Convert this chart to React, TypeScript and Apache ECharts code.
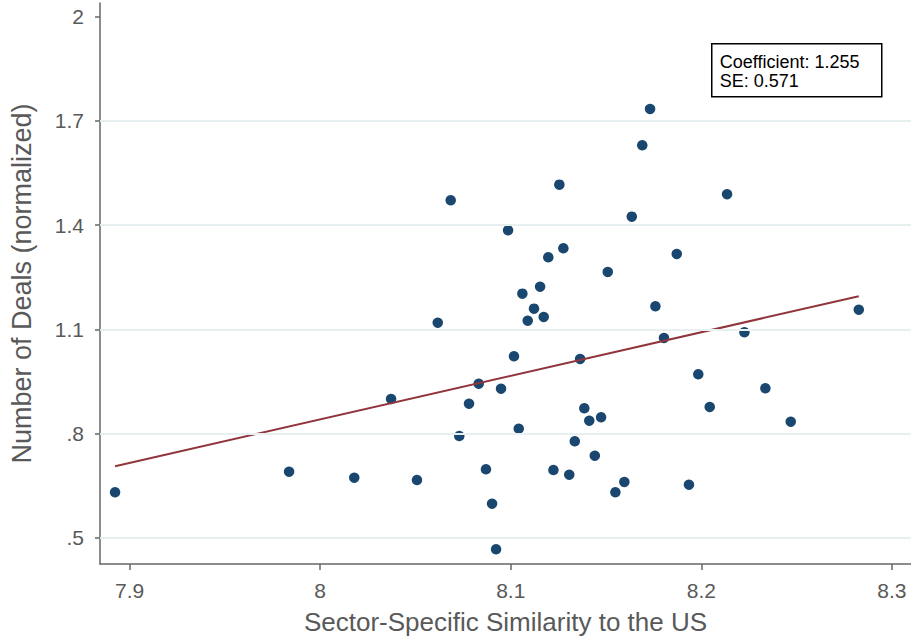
import React, { useEffect, useRef } from "react";
import * as echarts from "echarts";

// Sector-specific similarity (x) vs. normalized deal count (y), one point per observation
const similarity: number[] = [
  7.8924, 7.9837, 8.0179, 8.0372, 8.0508, 8.0617, 8.0685, 8.073, 8.0781, 8.0832,
  8.087, 8.0902, 8.0923, 8.0949, 8.0986, 8.1017, 8.1042, 8.1061, 8.1089, 8.1122,
  8.1154, 8.1173, 8.1197, 8.1224, 8.1255, 8.1276, 8.1307, 8.1336, 8.1364, 8.1386,
  8.1412, 8.1441, 8.1474, 8.1509, 8.1549, 8.1596, 8.1635, 8.169, 8.1731, 8.1759,
  8.1804, 8.1871, 8.1935, 8.1984, 8.2044, 8.2135, 8.2226, 8.2336, 8.2469, 8.2826,
];
const deals: number[] = [
  0.6307, 0.69, 0.6728, 0.8994, 0.6661, 1.119, 1.4715, 0.7928, 0.8858, 0.9434,
  0.697, 0.5979, 0.4666, 0.929, 1.3851, 1.0223, 0.8138, 1.2026, 1.1248, 1.1594,
  1.2227, 1.1355, 1.3074, 0.6949, 1.5164, 1.3333, 0.6814, 0.7776, 1.0145, 0.8726,
  0.8369, 0.7361, 0.8467, 1.265, 0.6307, 0.6604, 1.4243, 1.6298, 1.7344, 1.1663,
  1.075, 1.3169, 0.6526, 0.9705, 0.8763, 1.4888, 1.0914, 0.9302, 0.834, 1.1565,
];

// Linear fit: slope reported in the annotation box
const coefficient = 1.255;
const standardError = 0.571;
const fitIntercept = -9.1994;

const xTicks: number[] = [7.9, 8, 8.1, 8.2, 8.3];
const yTicks: number[] = [0.5, 0.8, 1.1, 1.4, 1.7, 2];

const FONT = "'Liberation Sans', Arial, Helvetica, sans-serif";
const GREY = "#595959";
const AXIS = "#666666";

const fmtY = (v: number) => {
  const s = String(Math.round(v * 10) / 10);
  return s.startsWith("0.") ? s.slice(1) : s;
};

export default function App() {
  const ref = useRef<HTMLDivElement>(null);

  useEffect(() => {
    if (!ref.current) return;
    const chart = echarts.init(ref.current, undefined, { renderer: "svg" });

    const points = similarity.map((x, i) => [x, deals[i]]);
    const xMin = Math.min(...similarity);
    const xMax = Math.max(...similarity);
    const fitLine = [
      [xMin, fitIntercept + coefficient * xMin],
      [xMax, fitIntercept + coefficient * xMax],
    ];

    const boxLines = [
      `Coefficient: ${coefficient.toFixed(3)}`,
      `SE: ${standardError.toFixed(3)}`,
    ];

    chart.setOption({
      animation: false,
      backgroundColor: "#ffffff",
      grid: {
        left: 100,
        right: 0,
        top: 3,
        bottom: 78,
        containLabel: false,
        outerBoundsMode: "none",
      },
      xAxis: {
        type: "value",
        min: 7.8845,
        max: 8.31,
        name: "Sector-Specific Similarity to the US",
        nameLocation: "middle",
        nameGap: 45,
        nameTextStyle: { fontFamily: FONT, fontSize: 26, color: GREY },
        axisLine: { show: true, onZero: false, lineStyle: { color: AXIS, width: 1.5 } },
        axisTick: {
          show: true,
          length: 6,
          customValues: xTicks,
          lineStyle: { color: AXIS, width: 1.5 },
        },
        axisLabel: {
          customValues: xTicks,
          margin: 16,
          fontFamily: FONT,
          fontSize: 21,
          color: GREY,
          formatter: (v: number) => String(Math.round(v * 10) / 10),
        },
        splitLine: { show: false },
      },
      yAxis: {
        type: "value",
        min: 0.4243,
        max: 2.0394,
        name: "Number of Deals (normalized)",
        nameLocation: "middle",
        nameGap: 65,
        nameTextStyle: { fontFamily: FONT, fontSize: 27, color: GREY },
        axisLine: { show: true, onZero: false, lineStyle: { color: AXIS, width: 1.5 } },
        axisTick: {
          show: true,
          length: 5,
          customValues: yTicks,
          lineStyle: { color: AXIS, width: 1.5 },
        },
        axisLabel: {
          customValues: yTicks,
          margin: 16,
          fontFamily: FONT,
          fontSize: 21,
          color: GREY,
          formatter: fmtY,
        },
        splitLine: { show: false },
      },
      series: [
        {
          // horizontal gridlines at the labelled y values (not at the top one)
          type: "line",
          data: [],
          silent: true,
          z: 1,
          markLine: {
            silent: true,
            symbol: ["none", "none"],
            label: { show: false },
            lineStyle: { color: "#e8eff1", width: 2, type: "solid" },
            data: yTicks.filter((v) => v < 2).map((v) => ({ yAxis: v })),
          },
        },
        {
          type: "scatter",
          data: points,
          symbol: "circle",
          symbolSize: 10.5,
          itemStyle: { color: "#1a476f", opacity: 1 },
          z: 3,
        },
        {
          type: "line",
          data: fitLine,
          symbol: "none",
          lineStyle: { color: "#90353b", width: 2 },
          z: 4,
        },
      ],
      graphic: [
        {
          type: "group",
          left: 711,
          top: 43,
          children: [
            {
              type: "rect",
              shape: { x: 0, y: 0, width: 170, height: 53 },
              style: { fill: "#ffffff", stroke: "#000000", lineWidth: 1.5 },
            },
            ...boxLines.map((line, i) => ({
              type: "text",
              x: 8,
              y: 9.5 + i * 18.5,
              style: {
                text: line,
                font: `18px ${FONT}`,
                fill: "#000000",
              },
            })),
          ],
        },
      ],
    });

    return () => chart.dispose();
  }, []);

  return (
    <div
      ref={ref}
      style={{ position: "absolute", left: 0, top: 0, width: 911, height: 642 }}
    />
  );
}
